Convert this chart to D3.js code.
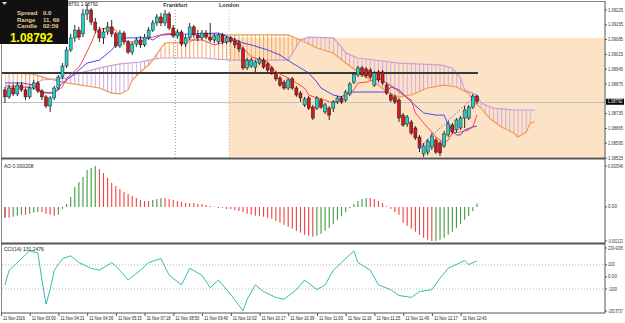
<!DOCTYPE html>
<html lang="en">
<head>
<meta charset="UTF-8">
<script src="https://d3js.org/d3.v7.min.js"></script>
<style>
  body { margin: 0; background: #fff; }
  svg { display: block; font-family: "Liberation Sans", Arial, sans-serif; }
</style>
</head>
<body>
<div id="chart"></div>
<script>
// ---- data ----
// candles: [open, high, low, close]
const ohlc = [
  [1.08847,1.08861,1.08785,1.08814],[1.08814,1.08870,1.08804,1.08856],[1.08856,1.08875,1.08818,1.08828],[1.08828,1.08884,1.08818,1.08870],
  [1.08870,1.08884,1.08837,1.08847],[1.08847,1.08856,1.08799,1.08814],[1.08814,1.08866,1.08804,1.08856],[1.08856,1.08894,1.08847,1.08880],
  [1.08880,1.08889,1.08832,1.08842],[1.08842,1.08851,1.08799,1.08814],[1.08814,1.08823,1.08761,1.08771],[1.08771,1.08818,1.08743,1.08809],
  [1.08809,1.08866,1.08799,1.08856],[1.08856,1.08918,1.08847,1.08908],[1.08908,1.08974,1.08899,1.08960],[1.08960,1.09050,1.08951,1.09036],
  [1.09036,1.09112,1.09026,1.09093],[1.09093,1.09154,1.09074,1.09130],[1.09130,1.09145,1.09083,1.09097],[1.09112,1.09230,1.09097,1.09206],
  [1.09206,1.09253,1.09178,1.09225],[1.09225,1.09234,1.09154,1.09168],[1.09168,1.09187,1.09116,1.09130],[1.09130,1.09145,1.09074,1.09093],
  [1.09093,1.09140,1.09064,1.09121],[1.09121,1.09168,1.09107,1.09145],[1.09145,1.09178,1.09097,1.09112],[1.09112,1.09121,1.09045,1.09055],
  [1.09055,1.09130,1.09045,1.09116],[1.09116,1.09126,1.09060,1.09074],[1.09074,1.09083,1.09017,1.09026],[1.09026,1.09074,1.09012,1.09064],
  [1.09064,1.09097,1.09050,1.09083],[1.09083,1.09102,1.09045,1.09060],[1.09060,1.09112,1.09050,1.09097],[1.09097,1.09145,1.09083,1.09130],
  [1.09130,1.09178,1.09121,1.09164],[1.09164,1.09206,1.09149,1.09192],[1.09192,1.09211,1.09149,1.09164],[1.09164,1.09225,1.09149,1.09206],
  [1.09206,1.09216,1.09130,1.09140],[1.09140,1.09154,1.09093,1.09102],[1.09102,1.09135,1.09088,1.09121],[1.09121,1.09130,1.09055,1.09064],
  [1.09064,1.09107,1.09050,1.09093],[1.09093,1.09164,1.09083,1.09145],[1.09145,1.09154,1.09093,1.09107],[1.09107,1.09130,1.09078,1.09093],
  [1.09093,1.09130,1.09083,1.09116],[1.09116,1.09130,1.09088,1.09097],[1.09097,1.09164,1.09074,1.09083],[1.09083,1.09116,1.09069,1.09102],
  [1.09074,1.09116,1.09064,1.09107],[1.09107,1.09116,1.09064,1.09074],[1.09074,1.09102,1.09064,1.09093],[1.09093,1.09102,1.09069,1.09078],
  [1.09078,1.09093,1.09045,1.09060],[1.09069,1.09083,1.09026,1.09041],[1.09041,1.09050,1.08941,1.08951],[1.08951,1.08998,1.08941,1.08988],
  [1.08960,1.08998,1.08951,1.08988],[1.08955,1.08988,1.08932,1.08979],[1.08974,1.09003,1.08965,1.08993],[1.08988,1.08998,1.08946,1.08955],
  [1.08970,1.08979,1.08932,1.08941],[1.08951,1.08960,1.08918,1.08927],[1.08927,1.08936,1.08889,1.08899],[1.08903,1.08913,1.08861,1.08870],
  [1.08884,1.08894,1.08847,1.08856],[1.08856,1.08903,1.08847,1.08894],[1.08899,1.08908,1.08847,1.08856],[1.08856,1.08866,1.08814,1.08823],
  [1.08832,1.08842,1.08790,1.08809],[1.08776,1.08814,1.08766,1.08804],[1.08809,1.08818,1.08752,1.08761],[1.08766,1.08776,1.08705,1.08714],
  [1.08761,1.08818,1.08752,1.08809],[1.08799,1.08809,1.08757,1.08766],[1.08743,1.08785,1.08733,1.08776],[1.08761,1.08771,1.08705,1.08728],
  [1.08761,1.08799,1.08743,1.08790],[1.08790,1.08818,1.08780,1.08809],[1.08809,1.08818,1.08780,1.08790],[1.08799,1.08847,1.08790,1.08837],
  [1.08828,1.08884,1.08818,1.08875],[1.08884,1.08932,1.08875,1.08922],[1.08918,1.08960,1.08908,1.08951],[1.08951,1.08960,1.08908,1.08918],
  [1.08946,1.08955,1.08903,1.08913],[1.08941,1.08951,1.08899,1.08908],[1.08870,1.08936,1.08861,1.08927],[1.08932,1.08941,1.08884,1.08894],
  [1.08932,1.08941,1.08870,1.08880],[1.08870,1.08880,1.08823,1.08832],[1.08823,1.08832,1.08790,1.08799],[1.08814,1.08823,1.08780,1.08790],
  [1.08799,1.08809,1.08695,1.08714],[1.08728,1.08738,1.08672,1.08681],[1.08686,1.08728,1.08672,1.08719],[1.08695,1.08705,1.08634,1.08643],
  [1.08667,1.08676,1.08610,1.08620],[1.08624,1.08634,1.08553,1.08572],[1.08544,1.08596,1.08530,1.08582],[1.08553,1.08615,1.08539,1.08605],
  [1.08577,1.08643,1.08563,1.08629],[1.08610,1.08620,1.08544,1.08553],[1.08596,1.08605,1.08534,1.08549],[1.08582,1.08653,1.08572,1.08639],
  [1.08634,1.08700,1.08624,1.08686],[1.08681,1.08691,1.08639,1.08648],[1.08658,1.08714,1.08648,1.08705],[1.08667,1.08724,1.08658,1.08714],
  [1.08714,1.08771,1.08667,1.08752],[1.08714,1.08776,1.08705,1.08766],[1.08766,1.08828,1.08757,1.08818],[1.08818,1.08823,1.08780,1.08792]
];

// ichimoku lines: [bar, price]
const tenkan = [[0,1.08866],[4,1.08861],[7,1.08856],[9,1.08832],[12,1.08832],[14,1.08861],[15,1.08903],[18,1.08955],[19,1.08988],
  [21,1.09069],[22,1.09116],[23,1.09135],[26,1.09140],[27,1.09130],[29,1.09083],[30,1.09074],[33,1.09074],[35,1.09093],[36,1.09097],
  [39,1.09112],[43,1.09116],[44,1.09083],[48,1.09083],[51,1.09060],[53,1.09069],[56,1.09083],[57,1.09069],[58,1.09045],[60,1.09003],
  [64,1.08979],[66,1.08932],[69,1.08903],[71,1.08880],[73,1.08856],[74,1.08823],[76,1.08809],[78,1.08799],[79,1.08790],[81,1.08790],
  [82,1.08814],[85,1.08847],[86,1.08880],[88,1.08884],[91,1.08903],[93,1.08880],[95,1.08856],[96,1.08837],[99,1.08799],[100,1.08738],
  [102,1.08691],[104,1.08648],[105,1.08624],[107,1.08596],[108,1.08610],[109,1.08643],[111,1.08648],[113,1.08658],[114,1.08672],[115,1.08728]];

const kijun = [[0,1.08880],[4,1.08880],[7,1.08870],[9,1.08837],[12,1.08832],[14,1.08880],[16,1.08908],[18,1.08941],[20,1.08974],
  [23,1.08988],[26,1.09036],[28,1.09083],[29,1.09093],[35,1.09093],[36,1.09083],[38,1.09107],[52,1.09116],[55,1.09093],[58,1.09069],
  [60,1.09060],[64,1.09036],[67,1.09012],[70,1.08974],[74,1.08927],[76,1.08884],[77,1.08856],[80,1.08823],[82,1.08814],[84,1.08837],
  [93,1.08837],[94,1.08861],[96,1.08847],[99,1.08790],[102,1.08738],[105,1.08728],[107,1.08728],[108,1.08681],[110,1.08634],
  [111,1.08634],[112,1.08658],[114,1.08672],[115,1.08676]];

const spanA = [[0,1.08927],[7,1.08922],[10,1.08903],[15,1.08880],[23,1.08856],[26,1.08832],[28,1.08828],[30,1.08847],[31,1.08894],
  [33,1.08932],[35,1.08965],[36,1.08988],[38,1.09045],[39,1.09069],[45,1.09074],[48,1.09107],[69,1.09107],[72,1.09083],[76,1.09045],
  [80,1.09022],[83,1.08974],[87,1.08918],[90,1.08884],[93,1.08837],[96,1.08814],[99,1.08823],[103,1.08856],[107,1.08870],[110,1.08861],
  [113,1.08832],[114,1.08790],[116,1.08761],[118,1.08714],[121,1.08672],[124,1.08643],[125,1.08624],[127,1.08648],[128,1.08691],[129,1.08695]];

const spanB = [[0,1.08856],[4,1.08856],[7,1.08870],[9,1.08894],[15,1.08903],[18,1.08927],[21,1.08941],[23,1.08951],[28,1.08970],
  [33,1.08979],[35,1.08988],[38,1.08998],[48,1.08998],[55,1.08988],[69,1.08988],[72,1.09083],[74,1.09097],[80,1.09093],[82,1.09050],
  [83,1.09022],[86,1.08998],[96,1.08974],[106,1.08965],[109,1.08951],[111,1.08903],[112,1.08847],[115,1.08823],[116,1.08785],
  [119,1.08761],[124,1.08752],[129,1.08752]];

const trendLine = [[101,1.08577],[114,1.08809]];
const levelPrice = 1.08927;
const bidPrice = 1.08792;
const sessionBox = {fromBar: 54.6, high: 1.09093, low: 1.08530};
const sessions = [["Frankfurt", 41.5], ["London", 54.6]];

const ao = [
  -0.000681,-0.000681,-0.000619,-0.000557,-0.000495,-0.000495,-0.000433,-0.000371,-0.000310,-0.000310,
  -0.000433,-0.000495,-0.000557,-0.000495,-0.000124,0.000186,0.000619,0.001238,0.001548,0.001857,
  0.002290,0.002414,0.002546,0.002352,0.002105,0.001795,0.001486,0.001300,0.001114,0.000929,
  0.000805,0.000681,0.000557,0.000433,0.000371,0.000371,0.000433,0.000495,0.000557,0.000557,
  0.000495,0.000433,0.000371,0.000310,0.000248,0.000248,0.000248,0.000186,0.000186,0.000124,
  0.000062,0.000015,-0.000062,-0.000062,-0.000124,-0.000124,-0.000186,-0.000248,-0.000310,
  -0.000433,-0.000495,-0.000557,-0.000557,-0.000619,-0.000681,-0.000743,-0.000867,-0.000990,-0.001114,
  -0.001238,-0.001362,-0.001486,-0.001609,-0.001733,-0.001795,-0.001857,-0.001795,-0.001671,-0.001486,
  -0.001300,-0.001052,-0.000805,-0.000557,-0.000310,-0.000062,0.000186,0.000371,0.000495,0.000557,
  0.000557,0.000495,0.000371,0.000248,0.000062,-0.000124,-0.000310,-0.000495,
  -0.000990,-0.001176,-0.001362,-0.001548,-0.001733,-0.001919,-0.002043,-0.002123,-0.002105,-0.002043,
  -0.001919,-0.001733,-0.001548,-0.001300,-0.001052,-0.000805,-0.000557,-0.000248,0.000208];

// cci: [bar, value]
const cci = [[0,-66],[1,55],[4,151],[6,215],[8,199],[9,-26],[10,-226],[11,-106],[12,55],[14,151],[16,175],[18,119],
  [21,71],[23,55],[26,119],[28,55],[30,-26],[33,55],[35,119],[38,151],[40,14],[43,-66],[45,71],[48,14],[50,-90],
  [52,-26],[55,-146],[58,-282],[59,-186],[61,-66],[63,-122],[66,-170],[68,-186],[71,-106],[73,-26],[76,-106],
  [78,-66],[80,55],[83,151],[85,215],[86,119],[89,55],[91,-66],[94,-106],[96,-154],[99,-170],[101,-122],
  [104,-106],[106,-10],[108,71],[111,119],[112,135],[113,103],[115,131.2476]];
const cciLevels = [100, -100];

const priceTicks = [1.08525,1.08595,1.08665,1.08735,1.08875,1.08945,1.09015,1.09085,1.09155,1.09225];
const aoTicks = [0.002546, 0, -0.002123];
const cciTicks = [239.4295, 100, 0, -100, -282.8737];
const timeLabels = ["11 Nov 2016","11 Nov 03:00","11 Nov 04:21","11 Nov 04:36","11 Nov 05:15","11 Nov 07:18",
  "11 Nov 08:50","11 Nov 09:40","11 Nov 10:02","11 Nov 10:17","11 Nov 10:39","11 Nov 11:00","11 Nov 11:16",
  "11 Nov 11:25","11 Nov 11:49","11 Nov 12:17","11 Nov 12:43"];
const labelEvery = 7;
const infoRows = [["Spread","0.0"],["Range","11, 69"],["Candle","02:59"]];
const headerText = "1.08791 1.08792";

// ---- layout ----
const W = 625, H = 323, axisX = 605;
const mainP = {top: 2, bottom: 158}, aoP = {top: 160, bottom: 243}, cciP = {top: 245, bottom: 313};

const x = d3.scaleLinear().domain([0, 1]).range([5, 9.104]);
const y = d3.scaleLinear().domain([1.08525, 1.09225]).range([158, 10]);
const yAO = d3.scaleLinear().domain([-0.002123, 0.002546]).range([241, 166]);
const yCCI = d3.scaleLinear().domain([-282.8737, 239.4295]).range([311, 248]);

const svg = d3.select("#chart").append("svg").attr("width", W).attr("height", H);
const defs = svg.append("defs");

// squeeze a text horizontally so it is at most maxW wide
function fitText(sel, maxW) {
  const w = sel.node().getComputedTextLength();
  if (w > maxW) {
    const tx = +sel.attr("x"), ty = +sel.attr("y");
    sel.attr("x", 0).attr("y", 0).attr("transform", `translate(${tx},${ty}) scale(${maxW / w},1)`);
  }
  return sel;
}

function clipRect(id, p) {
  defs.append("clipPath").attr("id", id).append("rect")
    .attr("x", 2).attr("y", p.top).attr("width", axisX - 2).attr("height", p.bottom - p.top);
}
clipRect("clipMain", mainP);
clipRect("clipAO", aoP);
clipRect("clipCCI", cciP);

function hatch(id, color) {
  const step = x(1) - x(0);
  const p = defs.append("pattern").attr("id", id).attr("patternUnits", "userSpaceOnUse")
    .attr("x", x(0) - 0.5).attr("y", 0).attr("width", step).attr("height", 10);
  p.append("rect").attr("width", 1).attr("height", 10).attr("fill", color);
}
hatch("hatchUp", "#f4a460");
hatch("hatchDn", "#cfa8dc");

const lineXY = d3.line().x(d => x(d[0])).y(d => y(d[1]));
function aboveLine(pts) {
  return `M${x(pts[0][0])},0` + lineXY(pts).replace(/^M/, "L") + `L${x(pts[pts.length - 1][0])},0Z`;
}
defs.append("clipPath").attr("id", "aboveB").append("path").attr("d", aboveLine(spanB));
defs.append("clipPath").attr("id", "aboveA").append("path").attr("d", aboveLine(spanA));

// ---- main panel ----
const gMain = svg.append("g").attr("clip-path", "url(#clipMain)");

gMain.append("rect")
  .attr("x", x(sessionBox.fromBar)).attr("y", y(sessionBox.high))
  .attr("width", axisX - x(sessionBox.fromBar)).attr("height", y(sessionBox.low) - y(sessionBox.high))
  .attr("fill", "#fde3c5");

const band = lineXY(spanA) + lineXY(spanB.slice().reverse()).replace(/^M/, "L") + "Z";
const gCloud = gMain.append("g");
gCloud.append("g").attr("clip-path", "url(#aboveB)")
  .append("path").attr("d", band).attr("fill", "url(#hatchUp)");
gCloud.append("g").attr("clip-path", "url(#aboveA)")
  .append("path").attr("d", band).attr("fill", "url(#hatchDn)");
gCloud.append("path").attr("d", lineXY(spanB)).attr("fill", "none").attr("stroke", "#c99fdc").attr("stroke-width", 1.2);
gCloud.append("path").attr("d", lineXY(spanA)).attr("fill", "none").attr("stroke", "#f29a50").attr("stroke-width", 1.2);

// session lines
sessions.forEach(([name, bar]) => {
  gMain.append("line").attr("x1", x(bar)).attr("x2", x(bar)).attr("y1", 10).attr("y2", mainP.bottom)
    .attr("stroke", name === "London" ? "#b0b0a0" : "#9aa060").attr("stroke-dasharray", "1,2");
  svg.append("text").attr("x", x(bar)).attr("y", 7).attr("text-anchor", "middle")
    .attr("font-size", 5.5).attr("font-weight", "bold").attr("fill", "#333").text(name);
});

// level + bid lines
gMain.append("line").attr("x1", 0).attr("x2", x(ohlc.length - 1) + 1)
  .attr("y1", y(levelPrice)).attr("y2", y(levelPrice)).attr("stroke", "#3a3a3a").attr("stroke-width", 1.8);
gMain.append("line").attr("x1", 0).attr("x2", axisX)
  .attr("y1", y(bidPrice) + 1).attr("y2", y(bidPrice) + 1).attr("stroke", "#c0c0c0").attr("stroke-width", 1);

gMain.append("path").attr("d", lineXY(kijun)).attr("fill", "none").attr("stroke", "#3333ff").attr("stroke-width", 0.9);
gMain.append("path").attr("d", lineXY(tenkan)).attr("fill", "none").attr("stroke", "#ff3333").attr("stroke-width", 0.9);

// candles
const gC = gMain.append("g").selectAll("g").data(ohlc).join("g");
gC.append("line")
  .attr("x1", (d, i) => x(i)).attr("x2", (d, i) => x(i))
  .attr("y1", d => y(d[1])).attr("y2", d => y(d[2]))
  .attr("stroke", "#111").attr("stroke-width", 0.9);
gC.append("rect")
  .attr("x", (d, i) => x(i) - 1.5).attr("width", 3)
  .attr("y", d => y(Math.max(d[0], d[3])))
  .attr("height", d => Math.max(1, Math.abs(y(d[0]) - y(d[3]))))
  .attr("fill", d => d[3] >= d[0] ? "#2bcdc8" : "#d01818")
  .attr("stroke", "#1a1a1a").attr("stroke-width", 0.5);

gMain.append("path").attr("d", lineXY(trendLine)).attr("fill", "none")
  .attr("stroke", "#3344ee").attr("stroke-width", 1).attr("stroke-dasharray", "1,2");
gMain.append("circle").attr("cx", x(trendLine[0][0])).attr("cy", y(trendLine[0][1])).attr("r", 1.3).attr("fill", "#3344ee");

// ---- AO panel ----
const gAO = svg.append("g").attr("clip-path", "url(#clipAO)");
gAO.selectAll("line").data(ao).join("line")
  .attr("x1", (d, i) => x(i)).attr("x2", (d, i) => x(i))
  .attr("y1", yAO(0)).attr("y2", d => yAO(d))
  .attr("stroke", (d, i) => (i > 0 && d > ao[i - 1]) ? "#3c9c3c" : (i === 0 ? "#a00000" : "#f04040"))
  .attr("stroke-width", 1.1);
svg.append("text").attr("x", 4).attr("y", 168).attr("font-size", 5).attr("fill", "#222")
  .text("AO " + ao[ao.length - 1].toFixed(6));

// ---- CCI panel ----
const gCCI = svg.append("g").attr("clip-path", "url(#clipCCI)");
cciLevels.forEach(v => {
  gCCI.append("line").attr("x1", 2).attr("x2", axisX).attr("y1", yCCI(v)).attr("y2", yCCI(v))
    .attr("stroke", "#bbb").attr("stroke-dasharray", "1,2");
});
gCCI.append("path").datum(cci)
  .attr("d", d3.line().x(d => x(d[0])).y(d => yCCI(d[1])))
  .attr("fill", "none").attr("stroke", "#20b2aa").attr("stroke-width", 0.9);
svg.append("text").attr("x", 4).attr("y", 251).attr("font-size", 5).attr("fill", "#222")
  .text("CCI(14) " + cci[cci.length - 1][1].toFixed(4));

// ---- frames ----
const frame = svg.append("g").attr("fill", "none");
frame.append("line").attr("x1", 1.5).attr("x2", 1.5).attr("y1", 1).attr("y2", cciP.bottom).attr("stroke", "#888");
frame.append("line").attr("x1", 1).attr("x2", axisX).attr("y1", 1.5).attr("y2", 1.5).attr("stroke", "#888");
[mainP.bottom + 0.5, aoP.bottom + 0.5].forEach(v => {
  frame.append("line").attr("x1", 1).attr("x2", axisX).attr("y1", v).attr("y2", v)
    .attr("stroke", "#555").attr("stroke-width", 2);
});
frame.append("line").attr("x1", 1).attr("x2", axisX).attr("y1", cciP.bottom).attr("y2", cciP.bottom).attr("stroke", "#555");
frame.append("line").attr("x1", axisX).attr("x2", axisX).attr("y1", 1).attr("y2", cciP.bottom).attr("stroke", "#555");

// ---- right axis ----
const axisG = svg.append("g").attr("font-size", 4.6).attr("fill", "#333");
function rightLabels(vals, scale, fmt) {
  vals.forEach(v => {
    const s = fmt(v);
    axisG.append("line").attr("x1", axisX).attr("x2", axisX + 2).attr("y1", scale(v)).attr("y2", scale(v)).attr("stroke", "#555");
    fitText(axisG.append("text").attr("x", axisX + 3).attr("y", scale(v) + 1.6).text(s), Math.min(15, s.length * 2.3));
  });
}
rightLabels(priceTicks, y, v => v.toFixed(5));
rightLabels(aoTicks, yAO, v => v === 0 ? "0.00" : v.toFixed(6));
rightLabels(cciTicks, yCCI, v => Number.isInteger(v) ? (v === 0 ? "0.00" : String(v)) : v.toFixed(4));
axisG.append("rect").attr("x", axisX + 1).attr("y", y(bidPrice) - 2.8).attr("width", 18).attr("height", 6).attr("fill", "#000");
fitText(axisG.append("text").attr("x", axisX + 2.5).attr("y", y(bidPrice) + 1.7).attr("fill", "#fff").text(bidPrice.toFixed(5)), 15);

// ---- time axis ----
const tG = svg.append("g").attr("font-size", 4.6).attr("fill", "#222");
timeLabels.forEach((t, k) => {
  const xx = x(k * labelEvery) - 3.5;
  tG.append("line").attr("x1", xx).attr("x2", xx).attr("y1", cciP.bottom).attr("y2", cciP.bottom + 3).attr("stroke", "#555");
  fitText(tG.append("text").attr("x", xx + 1.5).attr("y", 319.5).text(t), t.length * 2);
});

// ---- info box ----
svg.append("text").attr("x", 62).attr("y", 6).attr("font-size", 4.8).attr("fill", "#222").text(headerText);
svg.append("rect").attr("x", 0).attr("y", 0).attr("width", 68).attr("height", 44).attr("fill", "#111");
svg.append("path").attr("d", "M2,2L7,2L4.5,5Z").attr("fill", "#ddd");
infoRows.forEach(([k, v], i) => {
  svg.append("text").attr("x", 17).attr("y", 15 + i * 6.5).attr("font-size", 6).attr("font-weight", "bold").attr("fill", "#e8cf9a").text(k);
  svg.append("text").attr("x", 43).attr("y", 15 + i * 6.5).attr("font-size", 6).attr("font-weight", "bold").attr("fill", "#e8cf9a").text(v);
});
fitText(svg.append("text").attr("x", 10).attr("y", 42).attr("font-size", 12).attr("font-weight", "bold").attr("fill", "#ffff00")
  .text(bidPrice.toFixed(5)), 43);
</script>
</body>
</html>
